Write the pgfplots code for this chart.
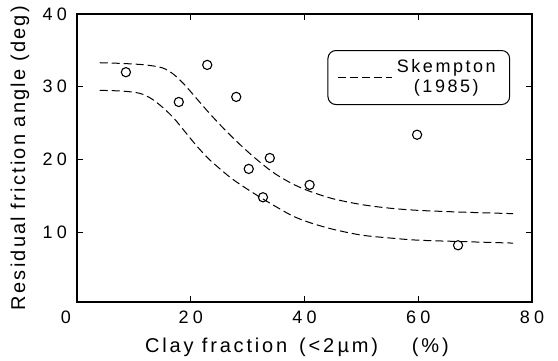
\documentclass[border=0pt]{standalone}
\usepackage{fontspec}
\setmainfont{Liberation Sans}[LetterSpace=14]
\newfontfamily\tickfont{Liberation Sans}[LetterSpace=24]
\newfontfamily\ylabfont{Liberation Sans}[LetterSpace=11]
\usepackage{pgfplots}
\pgfplotsset{compat=1.18}
\begin{document}
\begin{tikzpicture}
\begin{axis}[
  scale only axis,
  width=227.5pt, height=144pt,
  xmin=0, xmax=80, ymin=0.4, ymax=40,
  xtick={0,20,40,60,80},
  xticklabels={\makebox[0pt][r]{0\hspace{3pt}},20,40,60,80},
  ytick={10,20,30,40},
  tick align=inside,
  major tick length=3pt,
  axis line style={line width=0.65pt},
  tick style={line width=0.55pt, black},
  /pgf/number format/assume math mode=true,
  tick label style={font=\tickfont\fontsize{9}{10}\selectfont},
  yticklabel style={xshift=-1.5pt},
  xticklabel style={yshift=-1pt},
  label style={font=\fontsize{9}{10}\selectfont},
  xlabel={Clay fraction\hspace{6pt}(<2\,µm)\hspace{17pt}(\%)},
  ylabel={\ylabfont Residual friction angle (deg)},
  every axis x label/.style={at={(axis description cs:0.4835,-0.156)}, anchor=center},
  every axis y label/.style={at={(axis description cs:-0.1253,0.5)}, rotate=90, anchor=center},
  legend style={at={(0.952,0.875)}, anchor=north east, draw=black, rounded corners=4pt,
    line width=0.5pt,
    font=\fontsize{9}{10}\selectfont, nodes={align=center}, inner xsep=5pt, inner ysep=2.5pt},
  legend cell align=center,
  legend image code/.code={\draw[#1] (0pt,0pt) -- (27pt,0pt);},
]
\addplot[black, line width=0.5pt, dash pattern=on 4pt off 2pt, smooth] coordinates {
(4,33.3) (8,33.2) (12,33.0) (15,32.6) (17,31.7) (19,30.2) (21,28.4) (23,26.6)
(25,24.9) (27,23.3) (29,21.8) (31,20.4) (33,19.1) (35,17.95) (38,16.6) (41,15.6)
(45,14.6) (50,13.8) (55,13.3) (60,13.0) (68,12.75) (76.7,12.55)};
\addlegendentry{Skempton\\(1985)}
\addplot[black, line width=0.5pt, dash pattern=on 4pt off 2pt, smooth, forget plot] coordinates {
(4,29.5) (8,29.4) (11,29.1) (13,28.4) (15,27.2) (17,25.7) (19,23.8) (21,21.9)
(23,20.2) (25,18.8) (27,17.5) (29,16.4) (32,14.9) (35,13.5) (38,12.2) (41,11.3)
(45,10.4) (50,9.6) (55,9.2) (60,8.9) (68,8.7) (76.7,8.5)};
\addplot[only marks, mark=o, mark size=2.3pt, black, mark options={line width=0.55pt}, forget plot] coordinates {
(8.6,32.0) (17.9,27.9) (22.9,33.0) (28.0,28.6) (30.2,18.7) (33.9,20.2)
(32.7,14.8) (40.9,16.5) (59.8,23.4) (67.0,8.2)};
\end{axis}
\pgfresetboundingbox
\path[use as bounding box] (-38.5pt,-29pt) rectangle (240.5pt,151pt);
\end{tikzpicture}
\end{document}
